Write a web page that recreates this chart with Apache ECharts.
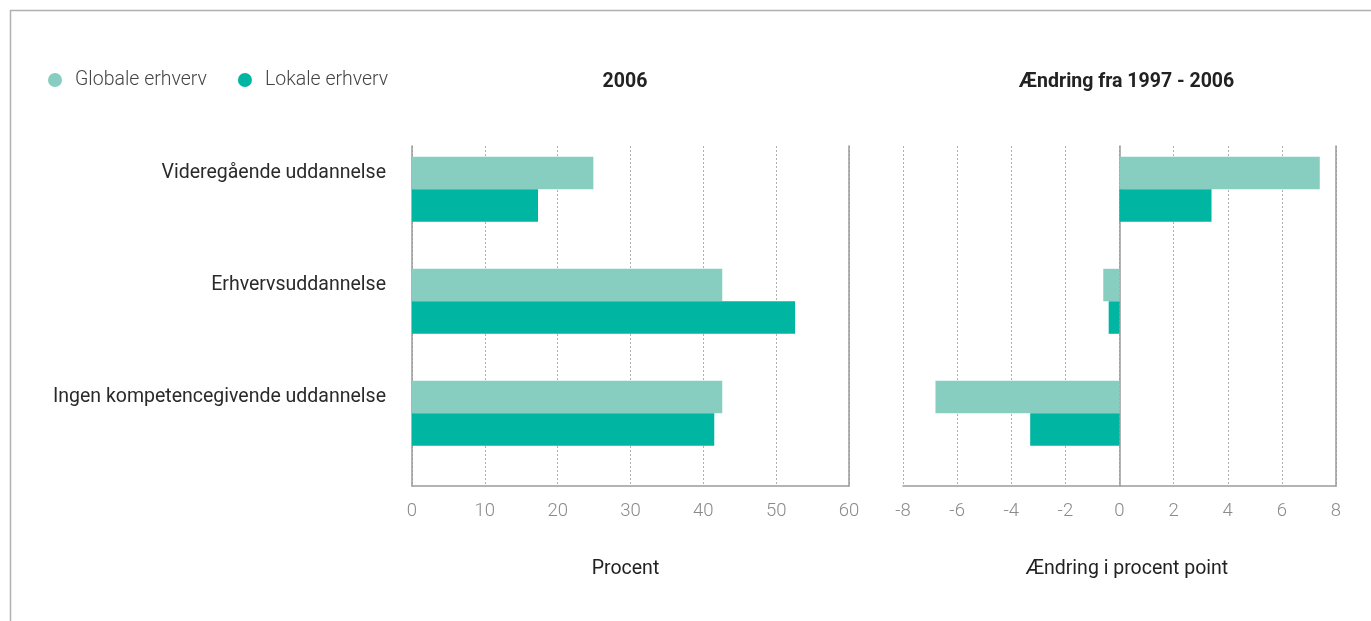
<!DOCTYPE html>
<html>
<head>
<meta charset="utf-8">
<script src="https://cdn.jsdelivr.net/npm/echarts@6/dist/echarts.min.js"></script>
<style>html,body{margin:0;padding:0;background:#fff}#c{width:1371px;height:621px}</style>
</head>
<body>
<div id="c"></div>
<script>
const categories = ['Videregående uddannelse', 'Erhvervsuddannelse', 'Ingen kompetencegivende uddannelse'];
const seriesNames = ['Globale erhverv', 'Lokale erhverv'];
const global2006 = [24.9, 42.6, 42.6];
const lokal2006 = [17.3, 52.6, 41.5];
const globalChange = [7.4, -0.6, -6.8];
const lokalChange = [3.4, -0.4, -3.3];
const panelTitles = ['2006', 'Ændring fra 1997 - 2006'];
const axisNames = ['Procent', 'Ændring i procent point'];
const leftRange = [0, 60, 10];
const rightRange = [-8, 8, 2];

const C_LIGHT = '#87CEC1', C_DARK = '#00B5A1';
const FONT = 'Roboto';
const chart = echarts.init(document.getElementById('c'));

function frameX(gi, r, name, namePad) {
  return {
    type: 'value', gridIndex: gi, min: r[0], max: r[1], interval: r[2],
    axisLine: {show: true, onZero: false, lineStyle: {color: '#9a9a9a', width: 1.5}},
    axisTick: {show: false},
    axisLabel: {color: '#8a8a8a', fontSize: 18.5, fontFamily: FONT, fontWeight: 300, margin: 16},
    splitLine: {show: true, lineStyle: {color: '#b0b0b0', type: [2, 2], width: 1}},
    name: name, nameLocation: 'middle', nameGap: 73,
    nameTextStyle: {color: '#222', fontSize: 19.5, fontFamily: FONT, padding: namePad}
  };
}
function hiddenX(gi, r) {
  return {type: 'value', gridIndex: gi, min: r[0], max: r[1], interval: r[2], show: false};
}
function frameY(gi, pos) {
  return {
    type: 'value', gridIndex: gi, min: 0, max: 1, position: pos,
    axisLine: {show: true, lineStyle: {color: '#9a9a9a', width: 1.5}},
    axisTick: {show: false}, axisLabel: {show: false}, splitLine: {show: false}
  };
}
function catY(gi, showLabels) {
  return {
    type: 'category', gridIndex: gi, data: categories, inverse: true,
    axisLine: {show: false}, axisTick: {show: false}, splitLine: {show: false},
    axisLabel: {show: showLabels, color: '#2a2a2a', fontSize: 19.5, fontFamily: FONT, margin: 26,
                verticalAlign: 'bottom', padding: [0, 0, 6, 0]}
  };
}
function bars(name, data, color, xi, yi) {
  return {
    type: 'bar', name: name, data: data, xAxisIndex: xi, yAxisIndex: yi,
    barWidth: 32.5, barGap: 0, itemStyle: {color: color}, silent: true
  };
}

chart.setOption({
  animation: false,
  backgroundColor: '#fff',
  title: [
    {text: panelTitles[0], left: 620, top: 67, textAlign: 'center',
     textStyle: {fontSize: 19.5, fontWeight: 'bold', color: '#222', fontFamily: FONT}},
    {text: panelTitles[1], left: 1121.5, top: 67, textAlign: 'center',
     textStyle: {fontSize: 19.5, fontWeight: 'bold', color: '#222', fontFamily: FONT}}
  ],
  legend: {
    data: seriesNames, left: 43, top: 65, icon: 'circle', itemWidth: 30, itemHeight: 14,
    itemGap: 31, textStyle: {color: '#444', fontSize: 19.5, fontFamily: FONT, fontWeight: 300}
  },
  grid: [
    {left: 412, right: 522, top: 146, bottom: 135},
    {left: 412, right: 522, top: 133.3, bottom: 151.7},
    {left: 903, right: 35, top: 146, bottom: 135},
    {left: 903, right: 35, top: 133.3, bottom: 151.7}
  ],
  xAxis: [
    frameX(0, leftRange, axisNames[0], [0, 10, 0, 0]),
    hiddenX(1, leftRange),
    frameX(2, rightRange, axisNames[1], [0, 0, 0, 15]),
    hiddenX(3, rightRange)
  ],
  yAxis: [
    frameY(0, 'left'), frameY(0, 'right'),
    catY(1, true),
    frameY(2, 'left'), frameY(2, 'right'),
    catY(3, false)
  ],
  series: [
    bars(seriesNames[0], global2006, C_LIGHT, 1, 2),
    bars(seriesNames[1], lokal2006, C_DARK, 1, 2),
    bars(seriesNames[0], globalChange, C_LIGHT, 3, 5),
    bars(seriesNames[1], lokalChange, C_DARK, 3, 5)
  ],
  graphic: [
    {type: 'line', shape: {x1: 10, y1: 10.5, x2: 1371, y2: 10.5}, style: {stroke: '#b0b0b0', lineWidth: 1.5}, silent: true},
    {type: 'line', shape: {x1: 10.5, y1: 10, x2: 10.5, y2: 621}, style: {stroke: '#b0b0b0', lineWidth: 1.5}, silent: true}
  ]
});
</script>
</body>
</html>
